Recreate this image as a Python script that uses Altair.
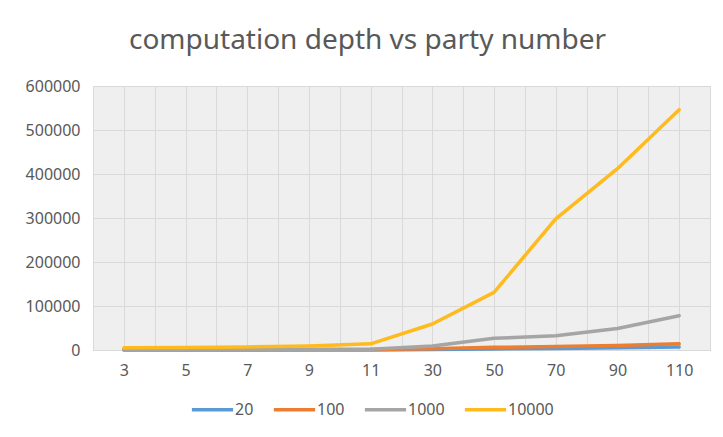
import altair as alt
import pandas as pd

categories = ["3", "5", "7", "9", "11", "30", "50", "70", "90", "110"]
series_names = ["20", "100", "1000", "10000"]
s20 = [60, 100, 150, 200, 260, 1200, 2500, 3500, 5000, 7000]
s100 = [300, 500, 700, 900, 1200, 3000, 6000, 8000, 10000, 14000]
s1000 = [500, 700, 900, 1200, 1500, 9000, 26500, 32500, 49000, 78000]
s10000 = [5000, 5500, 7000, 9000, 14000, 59000, 131000, 298000, 412000, 546000]
colors = ["#5B9BD5", "#ED7D31", "#A5A5A5", "#FFBA1E"]
y_ticks = [0, 100000, 200000, 300000, 400000, 500000, 600000]

rows = []
for name, vals in zip(series_names, [s20, s100, s1000, s10000]):
    for i, (c, v) in enumerate(zip(categories, vals)):
        rows.append({"idx": i, "party": c, "series": name, "depth": v})
df = pd.DataFrame(rows)

n = len(categories)
grid_vals = [i * 0.5 - 0.5 for i in range(2 * n + 1)]
label_map = "{" + ",".join(f"'{i}':'{c}'" for i, c in enumerate(categories)) + "}"
label_expr = f"({label_map})[''+datum.value] || ''"

color_scale = alt.Scale(domain=series_names, range=colors)

layers = []
for name in series_names:
    layers.append(
        alt.Chart(df)
        .transform_filter(alt.datum.series == name)
        .mark_line(strokeWidth=3.5, strokeCap="round", strokeJoin="round")
        .encode(
            x=alt.X(
                "idx:Q",
                scale=alt.Scale(domain=[-0.5, n - 0.5], nice=False, zero=False),
                axis=alt.Axis(
                    values=grid_vals,
                    labelExpr=label_expr,
                    title=None,
                    ticks=False,
                    domain=False,
                    grid=True,
                    gridColor="#d9d9d9",
                    labelFont="Noto Sans",
                    labelFontSize=16,
                    labelColor="#595959",
                    labelPadding=12,
                    labelFlush=False,
                    labelOverlap=False,
                ),
            ),
            y=alt.Y(
                "depth:Q",
                scale=alt.Scale(domain=[0, 600000], nice=False),
                axis=alt.Axis(
                    values=y_ticks,
                    format="d",
                    title=None,
                    ticks=False,
                    domain=False,
                    gridColor="#d9d9d9",
                    labelFont="Noto Sans",
                    labelFontSize=16,
                    labelColor="#595959",
                    labelPadding=13,
                ),
            ),
            color=alt.Color(
                "series:N",
                scale=color_scale,
                sort=series_names,
                legend=alt.Legend(
                    title=None,
                    orient="none",
                    legendX=97,
                    legendY=301,
                    direction="horizontal",
                    symbolType="stroke",
                    symbolSize=1700,
                    symbolStrokeWidth=3.5,
                    labelFont="Noto Sans",
                    labelFontSize=16,
                    labelColor="#595959",
                    labelOffset=0,
                    columnPadding=12,
                ),
            ),
        )
    )

chart = (
    alt.layer(*layers)
    .properties(
        width=617,
        height=264,
        padding={"left": 85, "top": 78, "right": 5, "bottom": 79},
        autosize=alt.AutoSizeParams(type="none"),
        title=alt.Title(
            "computation depth vs party number",
            font="Noto Sans",
            fontSize=28,
            fontWeight="normal",
            color="#595959",
            anchor="middle",
            offset=23,
            dx=-34,
        ),
        background="white",
    )
    .configure_view(fill="#efefef", stroke="#d9d9d9")
)

chart.save("out.html", embed_options={"renderer": "svg", "actions": False})
